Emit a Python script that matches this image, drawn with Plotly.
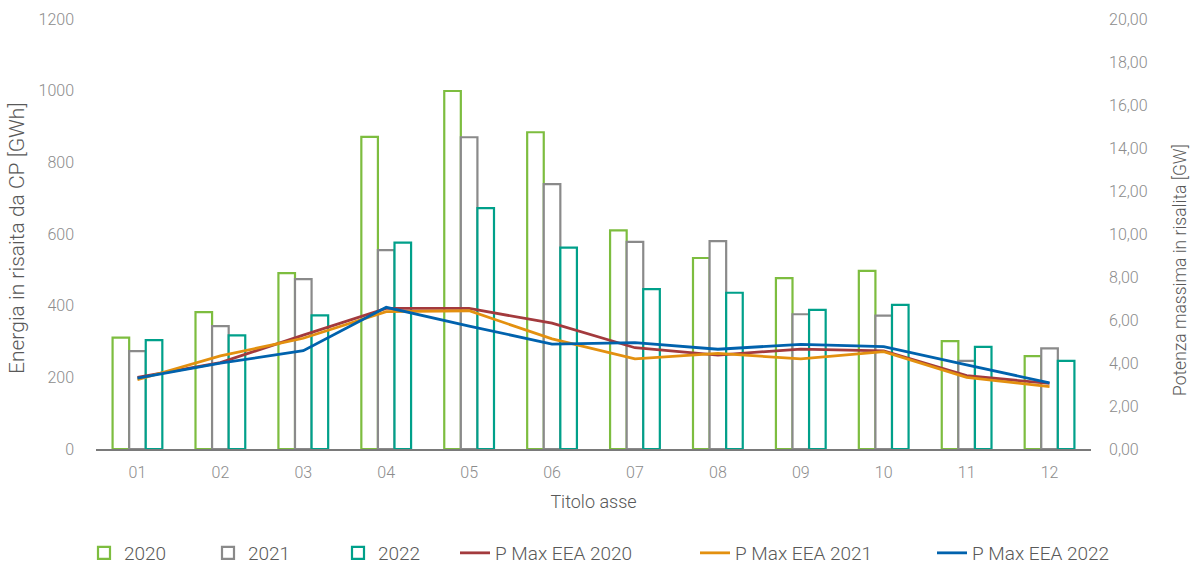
import plotly.graph_objects as go

# Months
months = ["01", "02", "03", "04", "05", "06", "07", "08", "09", "10", "11", "12"]

# Energia in risalita da CP [GWh]
energy_2020 = [311, 382, 491, 871, 999, 884, 610, 533, 477, 497, 301, 259]
energy_2021 = [273, 343, 474, 555, 870, 739, 578, 580, 376, 372, 246, 281]
energy_2022 = [304, 317, 373, 576, 672, 562, 446, 436, 388, 402, 285, 246]

# Potenza massima in risalita [GW]
pmax_2020 = [3.33, 4.02, 5.30, 6.54, 6.54, 5.85, 4.71, 4.37, 4.65, 4.56, 3.41, 3.05]
pmax_2021 = [3.22, 4.33, 5.15, 6.39, 6.43, 5.12, 4.19, 4.45, 4.19, 4.53, 3.33, 2.90]
pmax_2022 = [3.30, 3.99, 4.57, 6.59, 5.72, 4.88, 4.95, 4.64, 4.87, 4.76, 3.91, 3.08]

bar_names = ["2020", "2021", "2022"]
bar_colors = ["#7dbd3f", "#8a8a8a", "#00a08a"]
line_names = ["P Max EEA 2020", "P Max EEA 2021", "P Max EEA 2022"]
line_colors = ["#a33a3d", "#e3900f", "#0062ad"]

left_title = "Energia in risaita da CP [GWh]"
right_title = "Potenza massima in risalita [GW]"
x_title = "Titolo asse"

FONT = "Roboto, 'Liberation Sans', Arial, sans-serif"
TICK_COLOR = "#8c8c8c"
TITLE_COLOR = "#595959"

W, H = 1192, 565
plot_l, plot_r = 96, 1091
plot_t, plot_b = 19, 449

fig = go.Figure()

legend_ids = ["legend", "legend2", "legend3", "legend4", "legend5", "legend6"]

for i, (name, vals, col) in enumerate(zip(bar_names, [energy_2020, energy_2021, energy_2022], bar_colors)):
    fig.add_trace(go.Bar(
        x=months, y=vals, name=name,
        marker=dict(color="rgba(255,255,255,1)", line=dict(color=col, width=2.2)),
        legend=legend_ids[i],
    ))

for i, (name, vals, col) in enumerate(zip(line_names, [pmax_2020, pmax_2021, pmax_2022], line_colors)):
    fig.add_trace(go.Scatter(
        x=months, y=vals, name=name, yaxis="y2", mode="lines",
        line=dict(color=col, width=2.8),
        legend=legend_ids[3 + i],
    ))

# left edge (px) of each legend box, one legend per series
legend_left_px = [84, 208, 338, 455, 695, 932]

legend_layout = {}
for lid, lx in zip(legend_ids, legend_left_px):
    legend_layout[lid] = dict(
        x=lx / W, xref="container", xanchor="left",
        y=1 - 553 / H, yref="container", yanchor="middle",
        orientation="h", bgcolor="rgba(0,0,0,0)",
        font=dict(family=FONT, size=19, color=TITLE_COLOR, weight=300),
        itemwidth=30,
    )

title_font = dict(family=FONT, size=18, color=TITLE_COLOR, weight=300)
tick_font = dict(family=FONT, size=16, color=TICK_COLOR, weight=300)

fig.update_layout(
    width=W, height=H,
    margin=dict(l=plot_l, r=W - plot_r, t=plot_t, b=H - plot_b, autoexpand=False),
    paper_bgcolor="white", plot_bgcolor="white",
    barmode="group", bargap=0.4, bargroupgap=0,
    separators=",.",
    font=dict(family=FONT, color=TICK_COLOR, weight=300),
    showlegend=True,
    xaxis=dict(
        type="category", automargin=False,
        showgrid=False, zeroline=False,
        showline=True, linecolor="#7a7a7a", linewidth=1.5,
        ticks="", ticklabelstandoff=8,
        tickfont=tick_font,
        title=dict(text=x_title, font=title_font, standoff=14),
    ),
    yaxis=dict(
        range=[0, 1200], dtick=200, tick0=0, automargin=False,
        showgrid=False, zeroline=False, showline=False,
        ticks="", ticklabelstandoff=21,
        tickfont=tick_font,
    ),
    yaxis2=dict(
        overlaying="y", side="right", automargin=False,
        range=[0, 20], dtick=2, tick0=0, tickformat=".2f",
        showgrid=False, zeroline=False, showline=False,
        ticks="", ticklabelstandoff=17,
        tickfont=tick_font,
    ),
    annotations=[
        dict(text=left_title, textangle=-90, showarrow=False,
             xref="paper", yref="paper",
             x=(17 - plot_l) / (plot_r - plot_l), y=(plot_b - 239) / (plot_b - plot_t),
             xanchor="center", yanchor="middle",
             font=dict(family=FONT, size=21, color=TITLE_COLOR, weight=300)),
        dict(text=right_title, textangle=-90, showarrow=False,
             xref="paper", yref="paper",
             x=(1180 - plot_l) / (plot_r - plot_l), y=(plot_b - 270) / (plot_b - plot_t),
             xanchor="center", yanchor="middle",
             font=dict(family=FONT, size=17.5, color=TITLE_COLOR, weight=300)),
    ],
    **legend_layout,
)

fig.write_html("out.html")
